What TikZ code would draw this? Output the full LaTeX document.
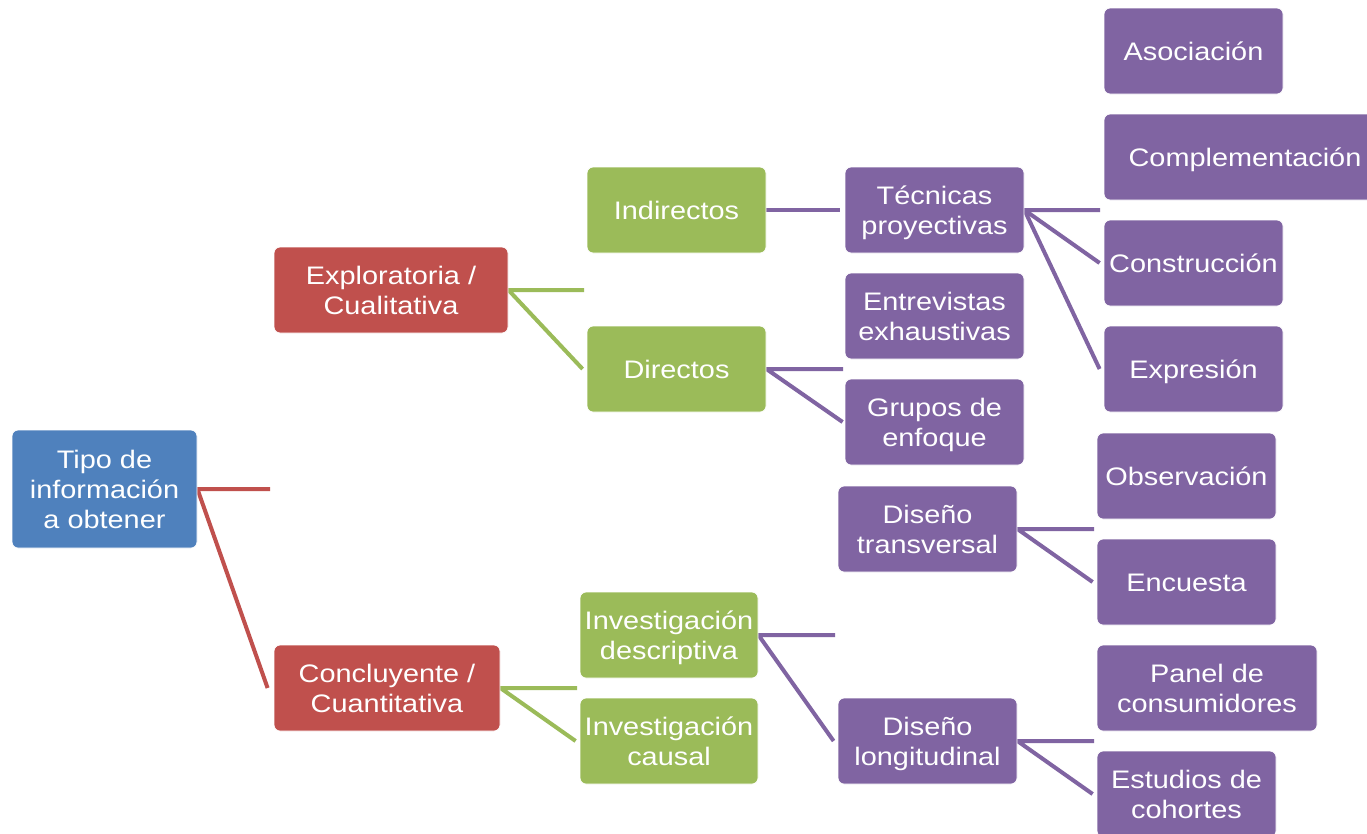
\documentclass[tikz,border=0pt]{standalone}
\usepackage{fontspec}
\setmainfont{Liberation Sans}[FakeStretch=1.14]
\usetikzlibrary{backgrounds}
\definecolor{cblue}{HTML}{4F81BD}
\definecolor{cred}{HTML}{C0504D}
\definecolor{cgreen}{HTML}{9BBB59}
\definecolor{cpurple}{HTML}{8064A2}
\tikzset{
  box/.style={rounded corners=4.5pt, draw=white, line width=0.6pt, text=white,
    align=center, inner sep=0pt, minimum height=64.5pt, minimum width=134.25pt,
    font=\fontsize{19}{22.5}\selectfont, text height=18.7pt, text depth=4.03pt},
  twolines/.style={text height=41.2pt},
  threelines/.style={text height=63.7pt},
  bluebox/.style={box, fill=cblue},
  redbox/.style={box, fill=cred},
  greenbox/.style={box, fill=cgreen},
  purplebox/.style={box, fill=cpurple},
  conn/.style={line width=3pt, line join=miter},
  redline/.style={conn, draw=cred},
  greenline/.style={conn, draw=cgreen},
  purpleline/.style={conn, draw=cpurple},
}
\begin{document}
\begin{tikzpicture}[x=0.75pt, y=-0.75pt]
\clip (0,0) rectangle (1367,833);
\useasboundingbox (0,0) rectangle (1367,833);

% nodes
\node[bluebox, threelines, minimum width=138.75pt, minimum height=88.5pt] (root) at (104.5,489) {Tipo de\\información\\a obtener};
\node[redbox, twolines, minimum width=175.5pt] (expl) at (391,290) {Exploratoria /\\Cualitativa};
\node[redbox, twolines, minimum width=169.5pt] (conc) at (387,688) {Concluyente /\\Cuantitativa};

\node[greenbox] (ind) at (676.5,210) {Indirectos};
\node[greenbox] (dir) at (676.5,369) {Directos};
\node[greenbox, twolines, minimum width=133.5pt] (desc) at (669,635) {Investigación\\descriptiva};
\node[greenbox, twolines, minimum width=133.5pt] (caus) at (669,741) {Investigación\\causal};

\node[purplebox, twolines] (tec) at (934.5,210) {Técnicas\\proyectivas};
\node[purplebox, twolines] (entr) at (934.5,316) {Entrevistas\\exhaustivas};
\node[purplebox, twolines] (grup) at (934.5,422) {Grupos de\\enfoque};
\node[purplebox, twolines] (trans) at (927.5,529) {Diseño\\transversal};
\node[purplebox, twolines] (long) at (927.5,741) {Diseño\\longitudinal};

\node[purplebox] (asoc) at (1193.5,51) {Asociación};
\node[purplebox, minimum width=211.5pt] (comp) at (1245,157) {Complementación};
\node[purplebox] (constr) at (1193.5,263) {Construcción};
\node[purplebox] (expr) at (1193.5,369) {Expresión};
\node[purplebox] (obs) at (1186.5,476) {Observación};
\node[purplebox] (enc) at (1186.5,582) {Encuesta};
\node[purplebox, twolines, minimum width=165pt] (panel) at (1207,688) {Panel de\\consumidores};
\node[purplebox, twolines] (estu) at (1186.5,794) {Estudios de\\cohortes};

% free ends of the stubs
\coordinate (sroot) at (270,489);
\coordinate (sexpl) at (584,290);
\coordinate (sconc) at (577,688);
\coordinate (sdir) at (843,369);
\coordinate (stec) at (1100,210);
\coordinate (sdesc) at (835,635);
\coordinate (strans) at (1094,529);
\coordinate (slong) at (1094,741);

\begin{scope}[on background layer]
\fill[white] (0,0) rectangle (1367,833);
\draw[redline] (sroot) -- (root.east) -- ([xshift=-4.5pt]conc.west);
\draw[greenline] (sexpl) -- (expl.east) -- ([xshift=-3pt]dir.west);
\draw[greenline] (sconc) -- (conc.east) -- ([xshift=-3pt]caus.west);
\draw[purpleline] (ind.east) -- ([xshift=-3.5pt]tec.west);
\draw[purpleline] (sdir) -- (dir.east) -- ([xshift=-1.5pt]grup.west);
\draw[purpleline] (stec) -- (tec.east) -- ([xshift=-3pt]expr.west);
\draw[purpleline] (tec.east) -- ([xshift=-3pt]constr.west);
\draw[purpleline] (sdesc) -- (desc.east) -- ([xshift=-3pt]long.west);
\draw[purpleline] (strans) -- (trans.east) -- ([xshift=-3pt]enc.west);
\draw[purpleline] (slong) -- (long.east) -- ([xshift=-3pt]estu.west);
\end{scope}
\end{tikzpicture}
\end{document}
